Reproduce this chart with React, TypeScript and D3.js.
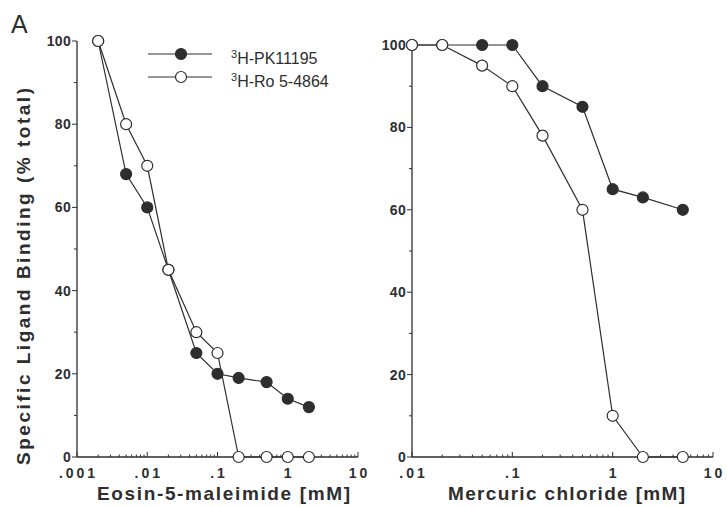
import React, { useEffect, useRef } from 'react';
import * as d3 from 'd3';

// left panel: eosin-5-maleimide
const eosinConc = [0.002, 0.005, 0.01, 0.02, 0.05, 0.1, 0.2, 0.5, 1, 2];
const eosinPK = [100, 68, 60, 45, 25, 20, 19, 18, 14, 12];
const eosinRo = [100, 80, 70, 45, 30, 25, 0, 0, 0, 0];

// right panel: mercuric chloride
const hgConc = [0.01, 0.02, 0.05, 0.1, 0.2, 0.5, 1, 2, 5];
const hgPK = [100, 100, 100, 100, 90, 85, 65, 63, 60];
const hgRo = [100, 100, 95, 90, 78, 60, 10, 0, 0];

const yTicks = [0, 20, 40, 60, 80, 100];
const leftXTicks = [0.001, 0.01, 0.1, 1, 10];
const leftXLabels = ['.001', '.01', '.1', '1', '10'];
const rightXTicks = [0.01, 0.1, 1, 10];
const rightXLabels = ['.01', '.1', '1', '10'];

const seriesNames = ['H-PK11195', 'H-Ro 5-4864'];

const INK = '#2e2e2e';
const FONT = 'Arial, "Liberation Sans", Helvetica, sans-serif';

const App = () => {
  const svgRef = useRef<SVGSVGElement>(null);

  useEffect(() => {
    const svg = d3.select(svgRef.current);
    svg.selectAll('*').remove();
    svg.attr('font-family', FONT);

    const panels = [
      {
        x: d3.scaleLog().domain([0.001, 10]).range([77, 358]),
        y: d3.scaleLinear().domain([0, 100]).range([457, 41]),
        conc: eosinConc, pk: eosinPK, ro: eosinRo,
        ticks: leftXTicks, labels: leftXLabels,
        title: 'Eosin-5-maleimide  [mM]', titleX: 97, titleLen: 253,
      },
      {
        x: d3.scaleLog().domain([0.01, 10]).range([412, 713]),
        y: d3.scaleLinear().domain([0, 100]).range([457, 45]),
        conc: hgConc, pk: hgPK, ro: hgRo,
        ticks: rightXTicks, labels: rightXLabels,
        title: 'Mercuric  chloride  [mM]', titleX: 448, titleLen: 237,
      },
    ];

    panels.forEach(p => {
      const g = svg.append('g');
      const [x0, x1] = p.x.range();
      const [yb, yt] = p.y.range();

      // axes lines
      g.append('line').attr('x1', x0).attr('x2', x0).attr('y1', yb).attr('y2', yt)
        .attr('stroke', INK).attr('stroke-width', 1.3);
      g.append('line').attr('x1', x0).attr('x2', x1).attr('y1', yb).attr('y2', yb)
        .attr('stroke', INK).attr('stroke-width', 1.3);

      // y ticks (major + minor)
      d3.range(0, 101, 10).forEach(v => {
        const major = v % 20 === 0;
        g.append('line')
          .attr('x1', x0 - (major ? 5 : 3)).attr('x2', x0)
          .attr('y1', p.y(v)).attr('y2', p.y(v))
          .attr('stroke', INK).attr('stroke-width', 1);
      });
      g.selectAll('.ylab').data(yTicks).join('text')
        .attr('x', x0 - 6).attr('y', d => p.y(d) + 5)
        .attr('text-anchor', 'end')
        .attr('font-size', 14).attr('font-weight', 'bold')
        .attr('letter-spacing', 0.3)
        .attr('fill', INK)
        .text(d => d);

      // x ticks on log scale, pointing up
      const [d0, d1] = p.x.domain();
      for (let e = Math.log10(d0); e < Math.log10(d1); e++) {
        for (let m = 1; m <= 9; m++) {
          const v = m * Math.pow(10, e);
          g.append('line')
            .attr('x1', p.x(v)).attr('x2', p.x(v))
            .attr('y1', yb).attr('y2', yb - (m === 1 ? 5 : 2.5))
            .attr('stroke', INK).attr('stroke-width', 1);
        }
      }
      g.append('line').attr('x1', x1).attr('x2', x1).attr('y1', yb).attr('y2', yb - 5)
        .attr('stroke', INK).attr('stroke-width', 1);

      g.selectAll('.xlab').data(p.ticks).join('text')
        .attr('x', d => p.x(d) + 1.5).attr('y', 478)
        .attr('text-anchor', 'middle')
        .attr('font-size', 14).attr('font-weight', 'bold')
        .attr('letter-spacing', 3)
        .attr('fill', INK)
        .text((d, i) => p.labels[i]);

      g.append('text')
        .attr('x', p.titleX).attr('y', 500)
        .attr('font-size', 19).attr('font-weight', 'bold')
        .attr('textLength', p.titleLen).attr('lengthAdjust', 'spacing')
        .attr('fill', INK)
        .text(p.title);

      const line = d3.line<number>()
        .x((d, i) => p.x(p.conc[i]))
        .y(d => p.y(d));

      // filled series first, open series on top
      [{ vals: p.pk, fill: INK }, { vals: p.ro, fill: '#fff' }].forEach(s => {
        g.append('path').datum(s.vals)
          .attr('d', line)
          .attr('fill', 'none').attr('stroke', INK).attr('stroke-width', 1.2);
      });
      [{ vals: p.pk, fill: INK }, { vals: p.ro, fill: '#fff' }].forEach(s => {
        g.selectAll(null).data(s.vals).join('circle')
          .attr('cx', (d, i) => p.x(p.conc[i]))
          .attr('cy', d => p.y(d))
          .attr('r', 5.5)
          .attr('fill', s.fill)
          .attr('stroke', INK).attr('stroke-width', 1.2);
      });
    });

    // y-axis title
    svg.append('text')
      .attr('transform', 'translate(30,465) rotate(-90)')
      .attr('font-size', 19).attr('font-weight', 'bold')
      .attr('textLength', 377).attr('lengthAdjust', 'spacing')
      .attr('fill', INK)
      .text('Specific  Ligand  Binding  (%  total)');

    // panel label
    svg.append('text')
      .attr('x', 11).attr('y', 33)
      .attr('font-size', 25)
      .attr('fill', INK)
      .text('A');

    // legend
    const legend = svg.append('g');
    [{ y: 54, fill: INK }, { y: 77, fill: '#fff' }].forEach((l, i) => {
      legend.append('line').attr('x1', 148).attr('x2', 212).attr('y1', l.y).attr('y2', l.y)
        .attr('stroke', INK).attr('stroke-width', 1.2);
      legend.append('circle').attr('cx', 181).attr('cy', l.y).attr('r', 5.5)
        .attr('fill', l.fill).attr('stroke', INK).attr('stroke-width', 1.2);
      const t = legend.append('text')
        .attr('x', 231).attr('y', l.y + 10)
        .attr('font-size', 16)
        .attr('fill', INK);
      t.append('tspan').attr('font-size', 11).attr('dy', -6).text('3');
      t.append('tspan').attr('dy', 6).text(seriesNames[i]);
    });
  }, []);

  return (
    <svg
      ref={svgRef}
      width={727}
      height={507}
      style={{ position: 'absolute', left: 0, top: 0, background: '#fff' }}
    />
  );
};

export default App;
